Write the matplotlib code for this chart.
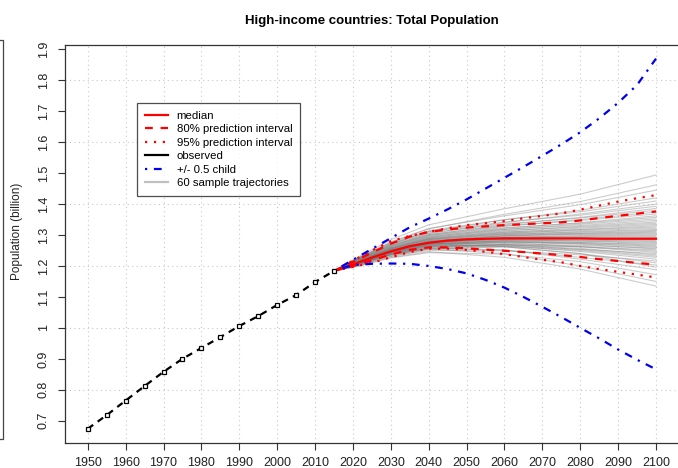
import matplotlib
matplotlib.use("Agg")
import matplotlib.pyplot as plt
from matplotlib.lines import Line2D

plt.rcParams['font.family'] = ['Liberation Sans', 'DejaVu Sans']

# observed population (billion), every 5 years
obs_years = [1950, 1955, 1960, 1965, 1970, 1975, 1980, 1985, 1990, 1995, 2000, 2005, 2010, 2015]
obs_pop = [0.674, 0.718, 0.765, 0.812, 0.858, 0.900, 0.935, 0.970, 1.006, 1.038, 1.074, 1.106, 1.148, 1.184]

# projections, every 5 years
proj_years = [2015, 2020, 2025, 2030, 2035, 2040, 2045, 2050, 2055, 2060,
              2065, 2070, 2075, 2080, 2085, 2090, 2095, 2100]
median = [1.184, 1.205, 1.227, 1.247, 1.264, 1.275, 1.282, 1.286, 1.288, 1.289,
          1.289, 1.289, 1.289, 1.289, 1.288, 1.288, 1.288, 1.288]
pi80_hi = [1.184, 1.213, 1.243, 1.272, 1.295, 1.310, 1.318, 1.324, 1.328, 1.332,
           1.335, 1.338, 1.341, 1.347, 1.355, 1.362, 1.369, 1.376]
pi80_lo = [1.184, 1.200, 1.218, 1.237, 1.252, 1.260, 1.260, 1.257, 1.253, 1.249,
           1.245, 1.240, 1.235, 1.229, 1.222, 1.216, 1.210, 1.204]
pi95_hi = [1.184, 1.217, 1.250, 1.280, 1.297, 1.310, 1.322, 1.332, 1.338, 1.345,
           1.354, 1.362, 1.370, 1.382, 1.395, 1.408, 1.419, 1.429]
pi95_lo = [1.184, 1.197, 1.210, 1.228, 1.245, 1.256, 1.256, 1.252, 1.246, 1.238,
           1.229, 1.220, 1.212, 1.200, 1.190, 1.181, 1.172, 1.163]
half_hi = [1.184, 1.220, 1.255, 1.290, 1.325, 1.353, 1.383, 1.415, 1.450, 1.485,
           1.520, 1.556, 1.593, 1.632, 1.677, 1.727, 1.785, 1.870]
half_lo = [1.184, 1.203, 1.207, 1.208, 1.207, 1.200, 1.190, 1.176, 1.155, 1.130,
           1.100, 1.068, 1.035, 1.000, 0.966, 0.930, 0.897, 0.866]

# 60 sample trajectories, read at these years
traj_years = [2015, 2020, 2030, 2040, 2060, 2080, 2100]
trajectories = [
    [1.184, 1.196, 1.228, 1.246, 1.228, 1.190, 1.135],
    [1.184, 1.199, 1.236, 1.255, 1.240, 1.200, 1.150],
    [1.184, 1.195, 1.226, 1.243, 1.238, 1.214, 1.172],
    [1.184, 1.202, 1.238, 1.258, 1.252, 1.222, 1.188],
    [1.184, 1.197, 1.231, 1.254, 1.262, 1.240, 1.196],
    [1.184, 1.200, 1.236, 1.256, 1.251, 1.228, 1.203],
    [1.184, 1.203, 1.241, 1.265, 1.262, 1.240, 1.210],
    [1.184, 1.199, 1.232, 1.250, 1.249, 1.236, 1.216],
    [1.184, 1.204, 1.244, 1.268, 1.266, 1.247, 1.222],
    [1.184, 1.201, 1.237, 1.258, 1.263, 1.250, 1.228],
    [1.184, 1.206, 1.246, 1.271, 1.270, 1.253, 1.232],
    [1.184, 1.202, 1.238, 1.262, 1.268, 1.257, 1.236],
    [1.184, 1.205, 1.244, 1.266, 1.264, 1.254, 1.240],
    [1.184, 1.200, 1.236, 1.258, 1.270, 1.262, 1.244],
    [1.184, 1.207, 1.248, 1.272, 1.275, 1.263, 1.248],
    [1.184, 1.203, 1.240, 1.263, 1.268, 1.262, 1.252],
    [1.184, 1.204, 1.243, 1.268, 1.278, 1.270, 1.255],
    [1.184, 1.201, 1.238, 1.262, 1.272, 1.266, 1.258],
    [1.184, 1.206, 1.247, 1.272, 1.280, 1.272, 1.261],
    [1.184, 1.203, 1.241, 1.266, 1.276, 1.273, 1.264],
    [1.184, 1.205, 1.246, 1.271, 1.281, 1.276, 1.267],
    [1.184, 1.202, 1.240, 1.266, 1.278, 1.276, 1.270],
    [1.184, 1.207, 1.249, 1.276, 1.285, 1.280, 1.273],
    [1.184, 1.204, 1.244, 1.270, 1.282, 1.281, 1.276],
    [1.184, 1.206, 1.248, 1.276, 1.287, 1.284, 1.279],
    [1.184, 1.203, 1.243, 1.270, 1.283, 1.284, 1.282],
    [1.184, 1.205, 1.247, 1.275, 1.290, 1.288, 1.285],
    [1.184, 1.207, 1.250, 1.278, 1.291, 1.289, 1.287],
    [1.184, 1.204, 1.245, 1.272, 1.286, 1.289, 1.289],
    [1.184, 1.206, 1.249, 1.277, 1.292, 1.292, 1.291],
    [1.184, 1.203, 1.245, 1.273, 1.290, 1.294, 1.294],
    [1.184, 1.207, 1.251, 1.280, 1.295, 1.296, 1.297],
    [1.184, 1.205, 1.247, 1.275, 1.292, 1.298, 1.300],
    [1.184, 1.208, 1.253, 1.282, 1.298, 1.301, 1.303],
    [1.184, 1.204, 1.248, 1.278, 1.297, 1.303, 1.306],
    [1.184, 1.209, 1.255, 1.285, 1.302, 1.305, 1.309],
    [1.184, 1.205, 1.249, 1.279, 1.298, 1.306, 1.312],
    [1.184, 1.208, 1.255, 1.286, 1.304, 1.309, 1.315],
    [1.184, 1.206, 1.250, 1.281, 1.301, 1.311, 1.318],
    [1.184, 1.210, 1.257, 1.288, 1.307, 1.314, 1.322],
    [1.184, 1.206, 1.252, 1.283, 1.305, 1.317, 1.326],
    [1.184, 1.209, 1.258, 1.290, 1.310, 1.318, 1.330],
    [1.184, 1.207, 1.253, 1.286, 1.309, 1.322, 1.334],
    [1.184, 1.211, 1.260, 1.293, 1.315, 1.325, 1.338],
    [1.184, 1.207, 1.255, 1.288, 1.313, 1.328, 1.342],
    [1.184, 1.212, 1.262, 1.296, 1.319, 1.331, 1.347],
    [1.184, 1.208, 1.256, 1.291, 1.318, 1.335, 1.352],
    [1.184, 1.213, 1.265, 1.299, 1.324, 1.338, 1.357],
    [1.184, 1.209, 1.258, 1.294, 1.322, 1.340, 1.362],
    [1.184, 1.214, 1.267, 1.302, 1.330, 1.347, 1.368],
    [1.184, 1.210, 1.261, 1.298, 1.328, 1.350, 1.374],
    [1.184, 1.215, 1.270, 1.307, 1.336, 1.355, 1.380],
    [1.184, 1.211, 1.264, 1.301, 1.333, 1.357, 1.386],
    [1.184, 1.216, 1.272, 1.311, 1.342, 1.364, 1.393],
    [1.184, 1.212, 1.266, 1.305, 1.340, 1.368, 1.400],
    [1.184, 1.217, 1.274, 1.314, 1.350, 1.375, 1.410],
    [1.184, 1.214, 1.270, 1.311, 1.349, 1.380, 1.420],
    [1.184, 1.218, 1.278, 1.321, 1.362, 1.398, 1.445],
    [1.184, 1.216, 1.276, 1.320, 1.367, 1.408, 1.462],
    [1.184, 1.220, 1.285, 1.333, 1.385, 1.432, 1.494],
]

x_ticks = list(range(1950, 2101, 10))
y_ticks = [0.7, 0.8, 0.9, 1.0, 1.1, 1.2, 1.3, 1.4, 1.5, 1.6, 1.7, 1.8, 1.9]
y_labels = ['0.7', '0.8', '0.9', '1', '1.1', '1.2', '1.3', '1.4', '1.5', '1.6', '1.7', '1.8', '1.9']
y_grid = [0.8, 1.0, 1.2, 1.4, 1.6, 1.8]

fig = plt.figure(figsize=(6.78, 4.68), dpi=100)
ax = fig.add_axes([0.0959, 0.0541, 0.9052, 0.8504])
ax.set_xlim(1944, 2106)
ax.set_ylim(0.629, 1.915)

# dotted grid
grid_style = dict(color='#c8c8c8', lw=0.8, linestyle=(0, (1, 3)), zorder=0)
for gx in x_ticks:
    ax.axvline(gx, **grid_style)
for gy in y_grid:
    ax.axhline(gy, **grid_style)

# trajectories
for tr in trajectories:
    ax.plot(traj_years, tr, color='#7a7a7a', alpha=0.38, lw=0.8, zorder=1)

# observed
ax.plot(obs_years, obs_pop, color='black', lw=1.6, linestyle=(0, (3, 2.5)),
        marker='s', ms=3.5, mfc='white', mec='black', mew=0.9, zorder=5)

# projections
ax.plot(proj_years, median, color='red', lw=1.6, zorder=4)
for band in (pi80_hi, pi80_lo):
    ax.plot(proj_years, band, color='red', lw=1.6, linestyle=(0, (3.5, 3.5)), zorder=4)
for band in (pi95_hi, pi95_lo):
    ax.plot(proj_years, band, color='red', lw=1.6, linestyle=(0, (1, 3)), zorder=4)
for band in (half_hi, half_lo):
    ax.plot(proj_years, band, color='#0000ee', lw=1.6, linestyle=(0, (1, 3, 3.5, 3)), zorder=4)

ax.set_xticks(x_ticks)
ax.set_yticks(y_ticks)
ax.set_yticklabels(y_labels, rotation=90, va='center')
ax.tick_params(axis='both', direction='out', length=5, width=0.8, color='#333333',
               labelsize=9, labelcolor='#222222')
ax.tick_params(axis='x', pad=5)
ax.tick_params(axis='y', pad=6)
for sp in ax.spines.values():
    sp.set_color('#333333')
    sp.set_linewidth(0.9)

ax.set_ylabel('Population (billion)', fontsize=8.5, color='#222222')
ax.yaxis.set_label_coords(-0.068, 0.53)
ax.set_title('High-income countries: Total Population', fontsize=9.5,
             fontweight='bold', pad=15)

handles = [
    Line2D([], [], color='red', lw=1.6),
    Line2D([], [], color='red', lw=1.6, linestyle=(0, (3.5, 3.5))),
    Line2D([], [], color='red', lw=1.6, linestyle=(0, (1, 3))),
    Line2D([], [], color='black', lw=1.6),
    Line2D([], [], color='#0000ee', lw=1.6, linestyle=(0, (1, 3, 3.5, 3))),
    Line2D([], [], color='#c0c0c0', lw=1.6),
]
labels = ['median', '80% prediction interval', '95% prediction interval',
          'observed', '+/- 0.5 child', '60 sample trajectories']
leg = ax.legend(handles, labels, loc='upper left', bbox_to_anchor=(0.117, 0.8535),
                fontsize=8.2, frameon=True, fancybox=False, edgecolor='#222222',
                handlelength=2.0, handletextpad=0.8, labelspacing=0.3,
                borderpad=0.7, borderaxespad=0)
leg.get_frame().set_linewidth(0.9)

# edge of the neighbouring panel on the left
fig.add_artist(Line2D([0, 2.7 / 678, 2.7 / 678, 0],
                      [1 - 40 / 468, 1 - 40 / 468, 1 - 438.5 / 468, 1 - 438.5 / 468],
                      color='#444444', lw=0.9))

fig.savefig('out.png', dpi=100)
